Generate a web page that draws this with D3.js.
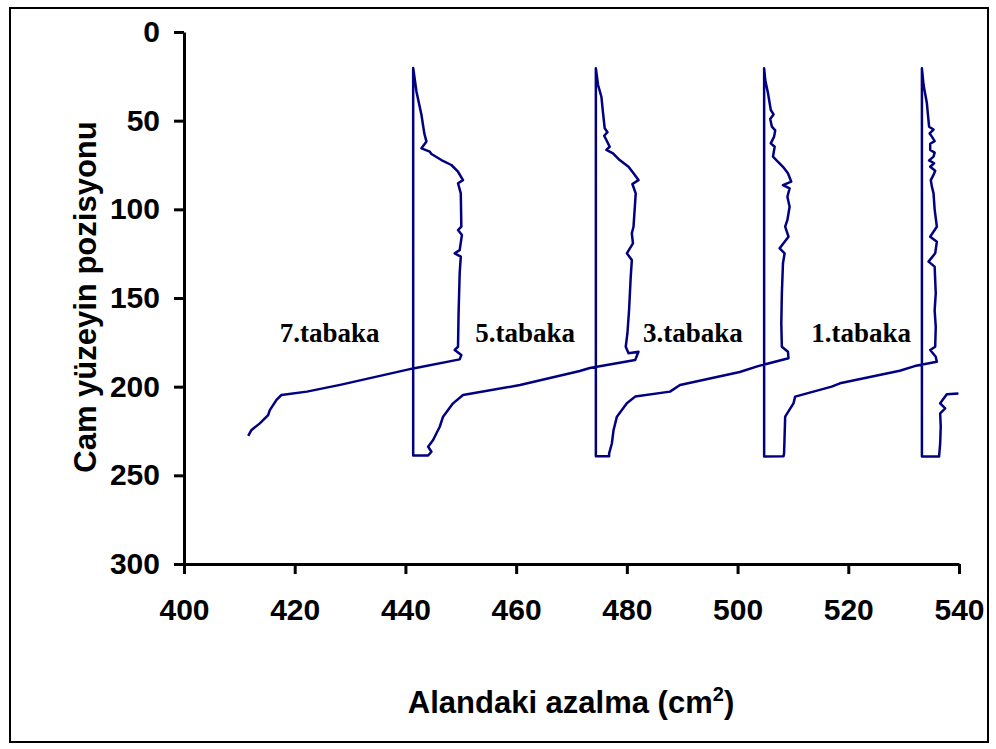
<!DOCTYPE html>
<html lang="tr">
<head>
    <meta charset="utf-8">
    <title>Cam yüzeyin pozisyonu</title>
    <style>
        html,
        body {
            margin: 0;
            padding: 0;
            background: #fff;
        }
        /* axis lines and ticks */

        .axis path,
        .axis line {
            stroke: #000;
            stroke-width: 3px;
        }

        .axis text {
            font-family: "Liberation Sans", Arial, sans-serif;
            font-weight: bold;
            font-size: 30px;
            fill: #000;
        }

        .trace {
            fill: none;
            stroke: #000080;
            stroke-width: 2.5px;
            stroke-linejoin: round;
        }

        .label {
            font-family: "Liberation Serif", "Times New Roman", serif;
            font-weight: bold;
            font-size: 27px;
        }

        .title {
            font-family: "Liberation Sans", Arial, sans-serif;
            font-weight: bold;
            font-size: 31px;
        }
    </style>
    <script src="https://d3js.org/d3.v7.min.js"></script>
</head>

<body>
    <div id="chart"></div>

    <script>
        // tick values
        var xTicks = [400, 420, 440, 460, 480, 500, 520, 540];
        var yTicks = [0, 50, 100, 150, 200, 250, 300];

        // each trace as [alan, pozisyon]
        // the line runs right to left, one layer after another
        var tabaka1 = [
            [539.9, 203.8], [537.8, 204.3], [536.6, 209.4], [537.5, 212.2], [536.6, 215.0],
            [536.7, 222.6], [536.6, 231.9], [536.4, 239.4], [533.3, 239.4], [533.3, 20.5],
            [533.6, 29.9], [534.2, 40.2], [534.4, 47.0], [534.6, 53.4], [535.4, 55.0],
            [534.7, 57.2], [535.1, 59.0], [535.6, 61.5], [534.8, 63.0], [534.8, 66.5],
            [535.6, 68.0], [535.4, 70.3], [534.6, 72.4], [535.5, 74.0], [534.8, 76.0],
            [535.7, 78.2], [535.4, 80.6], [534.9, 83.5], [535.1, 87.2], [535.4, 91.0],
            [535.6, 100.0], [536.0, 109.8], [534.8, 115.4], [536.0, 118.3], [535.7, 124.8],
            [534.5, 129.5], [535.6, 132.3], [535.8, 147.4], [535.6, 157.0], [535.8, 166.2],
            [535.7, 177.5], [534.8, 179.3], [535.8, 183.1], [536.0, 185.9]
        ];
        var tabaka3 = [
            [532.0, 188.4], [529.3, 191.0], [518.5, 198.1], [517.0, 200.0], [510.4, 205.6],
            [510.1, 209.4], [508.6, 216.9], [508.4, 237.6], [508.3, 239.3], [504.8, 239.4],
            [504.8, 20.5], [505.0, 27.1], [505.5, 34.6], [506.0, 44.0], [506.5, 46.5],
            [505.9, 49.0], [506.2, 53.4], [506.8, 55.5], [506.6, 59.0], [506.0, 62.8],
            [506.7, 64.7], [506.4, 70.3], [507.0, 72.2], [508.2, 76.0], [509.1, 79.7],
            [509.7, 84.4], [508.2, 86.3], [509.4, 88.2], [509.0, 92.9], [509.4, 98.5],
            [509.0, 106.0], [508.6, 109.8], [509.2, 115.4], [507.6, 122.0], [508.5, 124.8],
            [508.2, 130.4], [508.0, 147.4], [507.9, 164.3], [508.0, 177.5], [509.1, 180.3],
            [509.2, 184.0]
        ];
        var tabaka5 = [
            [503.7, 188.4], [500.4, 191.7], [489.6, 199.1], [487.8, 202.8], [481.5, 205.6],
            [480.0, 209.4], [478.2, 216.9], [477.6, 224.4], [477.3, 231.9], [476.8, 237.6],
            [476.8, 239.2], [474.4, 239.2], [474.4, 20.5], [474.8, 29.9], [475.4, 36.5],
            [475.7, 45.8], [476.0, 54.3], [476.5, 56.5], [475.9, 58.5], [476.3, 60.9],
            [476.9, 64.7], [476.3, 66.5], [477.5, 68.4], [478.7, 72.2], [480.3, 76.0],
            [481.2, 79.7], [482.1, 83.5], [481.0, 85.7], [481.6, 91.0], [481.4, 100.4],
            [481.2, 109.8], [480.9, 113.5], [481.1, 119.2], [480.0, 124.8], [480.9, 128.6],
            [480.7, 138.0], [480.4, 156.8], [480.1, 170.0], [479.8, 177.5], [480.3, 181.2],
            [482.1, 180.3], [481.5, 185.0]
        ];
        var tabaka7 = [
            [473.3, 189.5], [471.5, 191.2], [460.7, 199.1], [450.4, 204.7], [448.6, 209.4],
            [446.8, 216.9], [446.2, 222.6], [445.0, 230.1], [444.1, 233.9], [444.7, 236.7],
            [444.1, 238.8], [441.4, 238.8], [441.4, 20.3], [442.0, 33.7], [442.9, 46.8],
            [443.4, 57.0], [443.8, 61.8], [442.9, 65.6], [444.4, 67.5], [444.7, 68.8],
            [446.5, 72.2], [448.3, 75.0], [449.5, 78.8], [450.4, 83.5], [449.5, 85.3],
            [450.0, 91.0], [450.1, 109.8], [449.5, 111.7], [450.2, 114.5], [449.8, 123.0],
            [448.9, 124.8], [450.0, 126.7], [449.8, 136.0], [449.6, 158.7], [449.5, 177.5],
            [448.9, 179.3], [450.1, 182.2], [449.8, 184.6], [441.4, 189.7], [428.2, 199.0],
            [422.2, 202.8], [417.6, 204.7], [416.7, 207.5], [415.5, 213.2], [415.2, 216.0],
            [413.7, 220.7], [412.2, 224.4], [411.6, 227.8]
        ];

        // layer labels and where they sit, in data units
        var labelNames = ["7.tabaka", "5.tabaka", "3.tabaka", "1.tabaka"];
        var labelAt = [[417.3, 175], [452.6, 175], [482.9, 175], [513.3, 175]];

        var width = 996,
            height = 749;

        var svg = d3.select("#chart").append("svg")
            .attr("width", width)
            .attr("height", height);

        // outer frame
        svg.append("rect")
            .attr("x", 10)
            .attr("y", 8)
            .attr("width", 978)
            .attr("height", 734)
            .attr("fill", "none")
            .attr("stroke", "#000")
            .attr("stroke-width", 2);

        var x = d3.scaleLinear().domain([400, 540]).range([184, 959]);
        var y = d3.scaleLinear().domain([0, 300]).range([32, 564]);

        svg.append("g")
            .attr("class", "axis")
            .attr("transform", "translate(0," + y(300) + ")")
            .call(d3.axisBottom(x).tickValues(xTicks).tickSize(10).tickPadding(25).tickSizeOuter(0));

        svg.append("g")
            .attr("class", "axis")
            .attr("transform", "translate(" + x(400) + ",0)")
            .call(d3.axisLeft(y).tickValues(yTicks).tickSize(10).tickPadding(14).tickSizeOuter(0));

        //the whole trace is one connected line
        var trace = [].concat(tabaka1, tabaka3, tabaka5, tabaka7);

        var line = d3.line()
            .x(function(d) {
                return x(d[0]);
            })
            .y(function(d) {
                return y(d[1]);
            });

        svg.append("path")
            .attr("class", "trace")
            .attr("d", line(trace));

        svg.selectAll("text.label")
            .data(labelNames)
            .enter().append("text")
            .attr("class", "label")
            .attr("x", function(d, i) {
                return x(labelAt[i][0]);
            })
            .attr("y", function(d, i) {
                return y(labelAt[i][1]);
            })
            .text(function(d) {
                return d;
            });

        // axis titles
        var xTitle = svg.append("text")
            .attr("class", "title")
            .attr("x", 571)
            .attr("y", 713)
            .attr("text-anchor", "middle");
        xTitle.append("tspan").text("Alandaki azalma (cm");
        xTitle.append("tspan").attr("dy", -12).attr("font-size", "20px").text("2");
        xTitle.append("tspan").attr("dy", 12).text(")");

        svg.append("text")
            .attr("class", "title")
            .attr("transform", "translate(96,297) rotate(-90)")
            .attr("text-anchor", "middle")
            .text("Cam yüzeyin pozisyonu");
    </script>
</body>

</html>
